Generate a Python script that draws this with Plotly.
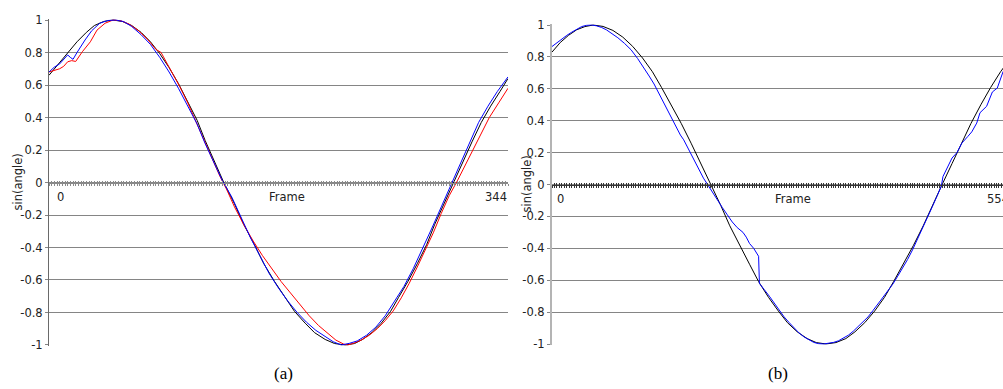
import plotly.graph_objects as go

# ---------------- data ----------------
left_black_frames = [0, 7, 14, 21, 28, 34, 41, 48, 55, 62, 69, 76, 83, 90, 97, 104, 111, 117, 124, 131,
                     139, 146, 154, 161, 169, 177, 184, 192, 199, 207, 214, 222, 229, 235, 242, 249, 256,
                     262, 269, 276, 283, 289, 296, 303, 310, 317, 324, 331, 338, 344]
left_black = [0.66, 0.73, 0.80, 0.866, 0.924, 0.966, 0.991, 1.0, 0.991, 0.966, 0.924, 0.866, 0.793, 0.707,
              0.609, 0.5, 0.383, 0.259, 0.131, 0.0, -0.131, -0.259, -0.383, -0.5, -0.609, -0.707, -0.793,
              -0.866, -0.924, -0.966, -0.991, -1.0, -0.991, -0.966, -0.924, -0.866, -0.793, -0.707, -0.609,
              -0.5, -0.383, -0.259, -0.131, 0.0, 0.13, 0.25, 0.37, 0.47, 0.56, 0.64]

left_blue_frames = [0, 4, 8, 11, 14, 16, 18, 21, 24, 27, 32, 38, 44, 50, 56, 62, 69, 76, 83, 90, 97, 104,
                    111, 117, 124, 130, 137, 144, 151, 158, 165, 172, 179, 186, 193, 200, 207, 213, 219,
                    225, 231, 238, 245, 252, 259, 266, 273, 280, 287, 294, 301, 308, 315, 322, 329, 336, 344]
left_blue = [0.68, 0.71, 0.73, 0.76, 0.785, 0.77, 0.758, 0.80, 0.84, 0.877, 0.934, 0.98, 0.997, 1.0, 0.99,
             0.96, 0.91, 0.85, 0.77, 0.68, 0.58, 0.47, 0.36, 0.24, 0.12, 0.01, -0.09, -0.22, -0.34, -0.45,
             -0.56, -0.65, -0.73, -0.80, -0.86, -0.91, -0.95, -0.98, -1.0, -0.99, -0.975, -0.94, -0.89,
             -0.82, -0.73, -0.64, -0.53, -0.41, -0.28, -0.15, -0.02, 0.12, 0.25, 0.37, 0.47, 0.56, 0.65]

left_red_frames = [0, 8, 11, 14, 17, 20, 25, 31, 36, 42, 48, 54, 60, 67, 74, 80, 84, 88, 92, 98, 104, 110,
                   116, 122, 128, 133, 139, 146, 153, 160, 167, 174, 181, 188, 195, 202, 209, 215, 221, 224,
                   228, 234, 240, 246, 252, 258, 264, 270, 276, 282, 288, 294, 300, 306, 312, 318, 324, 330,
                   337, 344]
left_red = [0.68, 0.70, 0.715, 0.743, 0.75, 0.745, 0.805, 0.866, 0.938, 0.98, 1.0, 0.995, 0.975, 0.935,
            0.88, 0.82, 0.80, 0.74, 0.68, 0.59, 0.49, 0.38, 0.26, 0.15, 0.04, -0.04, -0.15, -0.26, -0.36,
            -0.45, -0.53, -0.61, -0.68, -0.75, -0.82, -0.88, -0.93, -0.97, -0.995, -1.0, -0.99, -0.97,
            -0.94, -0.90, -0.85, -0.79, -0.71, -0.62, -0.52, -0.42, -0.31, -0.19, -0.08, 0.01, 0.11, 0.21,
            0.31, 0.40, 0.49, 0.58]

right_black_frames = [0, 10, 20, 30, 40, 50, 62, 74, 86, 98, 110, 122, 133, 145, 157, 169, 181, 193, 205,
                      216, 228, 240, 251, 263, 275, 286, 298, 310, 321, 333, 345, 357, 368, 380, 392, 404,
                      415, 427, 439, 451, 462, 474, 486, 498, 509, 521, 533, 545, 554]
right_black = [0.83, 0.89, 0.935, 0.97, 0.99, 1.0, 0.991, 0.966, 0.924, 0.866, 0.793, 0.707, 0.609, 0.5,
               0.383, 0.259, 0.131, 0.0, -0.131, -0.259, -0.383, -0.5, -0.609, -0.707, -0.793, -0.866,
               -0.924, -0.966, -0.991, -1.0, -0.991, -0.966, -0.924, -0.866, -0.793, -0.707, -0.609, -0.5,
               -0.383, -0.259, -0.131, 0.0, 0.131, 0.259, 0.383, 0.5, 0.609, 0.707, 0.77]

right_blue_frames = [0, 6, 12, 18, 24, 30, 36, 42, 48, 54, 60, 66, 72, 80, 88, 96, 104, 112, 118, 124, 130,
                     136, 142, 147, 152, 156, 160, 166, 172, 178, 184, 189, 195, 201, 207, 213, 219, 225,
                     229, 232, 236, 240, 245, 249, 251, 252, 254, 258, 264, 270, 276, 282, 288, 294, 300,
                     306, 312, 318, 324, 330, 336, 342, 348, 354, 360, 366, 372, 378, 384, 390, 396, 402,
                     408, 414, 420, 426, 432, 438, 444, 450, 456, 462, 468, 473, 475, 480, 486, 492, 498,
                     505, 510, 516, 520, 528, 535, 541, 548, 554]
right_blue = [0.865, 0.89, 0.91, 0.935, 0.955, 0.975, 0.99, 0.998, 1.0, 0.995, 0.985, 0.97, 0.95, 0.92,
              0.885, 0.845, 0.79, 0.73, 0.68, 0.63, 0.57, 0.51, 0.45, 0.40, 0.34, 0.31, 0.28, 0.22, 0.15,
              0.09, 0.04, 0.0, -0.05, -0.10, -0.145, -0.19, -0.235, -0.27, -0.29, -0.30, -0.33, -0.37,
              -0.40, -0.43, -0.45, -0.62, -0.635, -0.66, -0.70, -0.745, -0.79, -0.83, -0.865, -0.90, -0.93,
              -0.955, -0.975, -0.99, -0.998, -1.0, -0.995, -0.99, -0.98, -0.965, -0.945, -0.92, -0.89,
              -0.86, -0.83, -0.79, -0.75, -0.71, -0.67, -0.625, -0.575, -0.525, -0.47, -0.41, -0.345,
              -0.28, -0.21, -0.14, -0.07, -0.01, 0.05, 0.10, 0.166, 0.20, 0.26, 0.30, 0.33, 0.385, 0.45,
              0.49, 0.58, 0.605, 0.707, 0.74]

y_ticks = [-1, -0.8, -0.6, -0.4, -0.2, 0, 0.2, 0.4, 0.6, 0.8, 1]
y_tick_text = ["-1", "-0.8", "-0.6", "-0.4", "-0.2", "0", "0.2", "0.4", "0.6", "0.8", "1"]
left_frame_count = 344
right_frame_count = 554
axis_title = "sin(angle)"
x_title = "Frame"
panel_labels = ["(a)", "(b)"]

# ---------------- layout geometry (targets in page pixels) ----------------
W, H = 1003, 389
def px_x(p):
    return p / W
def px_y(p):
    return (H - p) / H

YR = 1.005
left_dom_x = [px_x(49), px_x(508)]
left_dom_y = [px_y(345.8), px_y(19.2)]
right_dom_x = [px_x(552), 1.0]
right_dom_y = [px_y(344.8), px_y(24.2)]
right_range_end = right_frame_count * (1003 - 552) / (1008 - 552)

tick_font = dict(family="DejaVu Sans", size=11.5, color="#222222")

fig = go.Figure()

def line(x, y, color, xa, ya):
    return go.Scatter(x=x, y=y, mode="lines", line=dict(color=color, width=1),
                      xaxis=xa, yaxis=ya, hoverinfo="skip", showlegend=False)

fig.add_trace(line(left_black_frames, left_black, "#000000", "x", "y"))
fig.add_trace(line(left_red_frames, left_red, "#ff0000", "x", "y"))
fig.add_trace(line(left_blue_frames, left_blue, "#0000ff", "x", "y"))
fig.add_trace(line(right_black_frames, right_black, "#000000", "x2", "y2"))
fig.add_trace(line(right_blue_frames, right_blue, "#0000ff", "x2", "y2"))

# empty traces to register the zero-line overlay axes
for xa, ya in [("x3", "y"), ("x4", "y"), ("x5", "y2"), ("x6", "y2")]:
    fig.add_trace(go.Scatter(x=[], y=[], xaxis=xa, yaxis=ya, showlegend=False, hoverinfo="skip"))

def yaxis_cfg(dom, anchor, linecolor, linewidth):
    return dict(domain=dom, anchor=anchor, range=[-YR, YR], tickvals=y_ticks, ticktext=y_tick_text,
                showgrid=True, gridcolor="#858585", gridwidth=1, zeroline=False,
                showline=True, linecolor=linecolor, linewidth=linewidth, automargin=False,
                ticks="outside", ticklen=3, tickcolor="#858585", tickfont=tick_font, fixedrange=True)

def xaxis_main(dom, anchor, rng):
    return dict(domain=dom, anchor=anchor, range=rng, showgrid=False, zeroline=False, showline=False,
                ticks="", showticklabels=False, fixedrange=True, automargin=False)

def xaxis_zero(over, rng, pos, direction, color, dtick):
    return dict(overlaying=over, anchor="free", position=pos, range=rng, showgrid=False, zeroline=False,
                showline=True, linecolor=color, linewidth=1, ticks=direction, ticklen=2, tickwidth=1,
                tickcolor=color, tick0=0, dtick=dtick, showticklabels=False, fixedrange=True,
                automargin=False)

left_zero_pos = (left_dom_y[0] + left_dom_y[1]) / 2
right_zero_pos = (right_dom_y[0] + right_dom_y[1]) / 2
lrng = [0, left_frame_count]
rrng = [0, right_range_end]

fig.update_layout(
    width=W, height=H, autosize=False,
    margin=dict(l=0, r=0, t=0, b=0, pad=0, autoexpand=False),
    paper_bgcolor="white", plot_bgcolor="white", showlegend=False,
    xaxis=xaxis_main(left_dom_x, "y", lrng),
    yaxis=yaxis_cfg(left_dom_y, "x", "#6a6a6a", 1),
    xaxis2=xaxis_main(right_dom_x, "y2", rrng),
    yaxis2=yaxis_cfg(right_dom_y, "x2", "#b4b4b4", 2),
    xaxis3=xaxis_zero("x", lrng, left_zero_pos, "outside", "#8a8a8a", 2),
    xaxis4=xaxis_zero("x", lrng, left_zero_pos, "inside", "#8a8a8a", 2),
    xaxis5=xaxis_zero("x2", rrng, right_zero_pos, "outside", "#333333", 3),
    xaxis6=xaxis_zero("x2", rrng, right_zero_pos, "inside", "#333333", 3),
)

ann_font = dict(family="DejaVu Sans", size=11.5, color="#222222")
anns = [
    dict(x=0, y=0, xref="x", yref="y", text="0", xanchor="left", xshift=6),
    dict(x=left_frame_count, y=0, xref="x", yref="y", text=str(left_frame_count), xanchor="right", xshift=1),
    dict(x=178, y=0, xref="x", yref="y", text=x_title, xanchor="center"),
    dict(x=0, y=0, xref="x2", yref="y2", text="0", xanchor="left", xshift=3),
    dict(x=right_range_end, y=0, xref="x2", yref="y2", text=str(right_frame_count), xanchor="left", xshift=-18),
    dict(x=293, y=0, xref="x2", yref="y2", text=x_title, xanchor="center"),
]
for a in anns:
    a.update(showarrow=False, yanchor="middle", yshift=-14, font=ann_font)
    fig.add_annotation(**a)

fig.add_annotation(x=px_x(17), y=left_zero_pos, xref="paper", yref="paper", text=axis_title,
                   textangle=-90, showarrow=False, font=ann_font, xanchor="center", yanchor="middle")
fig.add_annotation(x=px_x(526), y=right_zero_pos, xref="paper", yref="paper", text=axis_title,
                   textangle=-90, showarrow=False, font=ann_font, xanchor="center", yanchor="middle")

serif = dict(family="Liberation Serif", size=17, color="#000000")
fig.add_annotation(x=px_x(283), y=px_y(373), xref="paper", yref="paper", text=panel_labels[0],
                   showarrow=False, font=serif, xanchor="center", yanchor="middle")
fig.add_annotation(x=px_x(778), y=px_y(373), xref="paper", yref="paper", text=panel_labels[1],
                   showarrow=False, font=serif, xanchor="center", yanchor="middle")

fig.write_html("out.html", config={"displayModeBar": False},
               post_script="document.body.style.margin='0px';document.body.style.overflow='hidden';")
